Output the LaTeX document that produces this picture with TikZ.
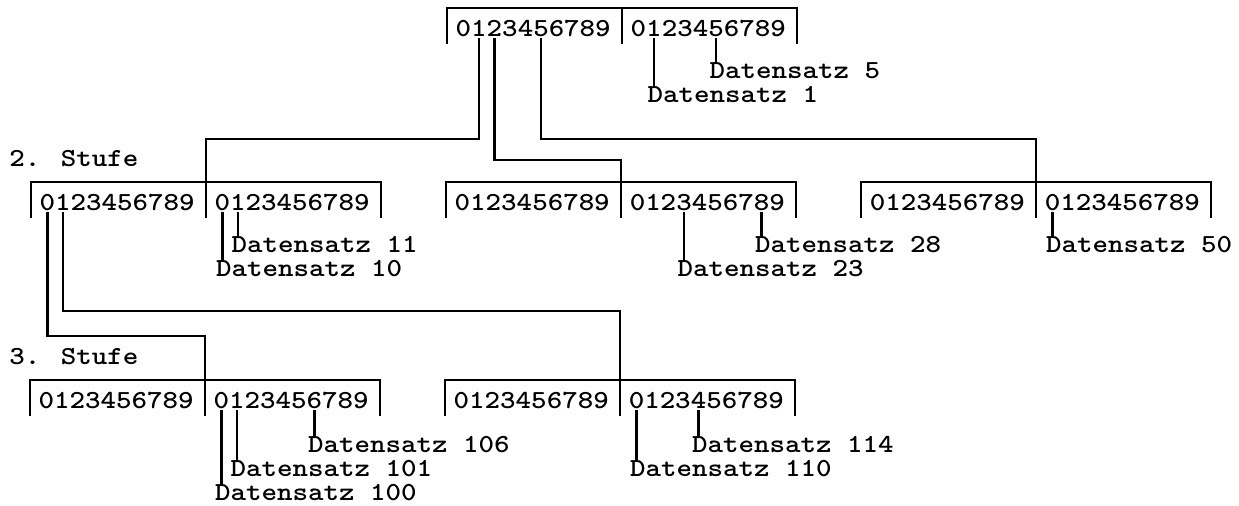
\documentclass[tikz,border=0pt]{standalone}
\usepackage{fontspec}
\usepackage{tikz}
\usetikzlibrary{positioning}
\newfontfamily\typewriter{lmmonolt10-bold.otf}[FakeStretch=1.136]

% one key block: name, left x, top y
\newcommand{\keyblock}[3]{%
  \draw (#2,#3+36) -- (#2,#3) -- (#2+350,#3) -- (#2+350,#3+36);
  \draw (#2+175,#3) -- (#2+175,#3+36);
  \coordinate (#1) at (#2+175,#3);
  \foreach \d in {0,...,9} {
    \node[digit] (#1l\d) at (#2+16.5+15.5*\d,#3+29) {\d};
    \node[digit] (#1r\d) at (#2+191.5+15.5*\d,#3+29) {\d};
  }
}

\begin{document}
\begin{tikzpicture}[
        x=0.5pt,y=-0.5pt,
        line width=1.3pt,
        every node/.style={font=\typewriter\fontsize{13}{15}\selectfont},
        digit/.style={inner sep=0pt,text height=7.5pt,text depth=0pt,anchor=base},
        satz/.style={inner sep=0pt,text height=7.5pt,text depth=0pt,anchor=base west,xshift=-3.875pt},
        stufe/.style={inner sep=0pt,anchor=base west}
      ]
      \useasboundingbox (0,0) rectangle (1239,506);

      % 1. level
      \keyblock{T}{447}{8}
      % 2. level
      \node[stufe] (stufe2) at (8,167) {2. Stufe};
      \keyblock{A}{31}{182}
      \keyblock{B}{446}{182}
      \keyblock{C}{861}{182}
      % 3. level
      \node[stufe] (stufe3) at (8,365) {3. Stufe};
      \keyblock{D}{30}{380}
      \keyblock{E}{445}{380}

      % knees of the tree
      \coordinate (kA) at (206,139);
      \coordinate (kB) at (621,160);
      \coordinate (kC) at (1036,139);
      \coordinate (kD) at (205,336);
      \coordinate (kE) at (620,311);

      \draw (Tl1.south) |- (kA) -- (A);
      \draw (Tl2.south) |- (kB) -- (B);
      \draw (Tl5.south) |- (kC) -- (C);
      \draw (Al0.south) |- (kD) -- (D);
      \draw (Al1.south) |- (kE) -- (E);

      % records
      \node[satz] (s5) at (Tr5 |- 0,79) {Datensatz 5};
      \node[satz] (s1) at (Tr1 |- 0,103) {Datensatz 1};
      \node[satz] (s11) at (Ar1 |- 0,253) {Datensatz 11};
      \node[satz] (s10) at (Ar0 |- 0,277) {Datensatz 10};
      \node[satz] (s28) at (Br8 |- 0,253) {Datensatz 28};
      \node[satz] (s23) at (Br3 |- 0,277) {Datensatz 23};
      \node[satz] (s50) at (Cr0 |- 0,253) {Datensatz 50};
      \node[satz] (s106) at (Dr6 |- 0,453) {Datensatz 106};
      \node[satz] (s101) at (Dr1 |- 0,477) {Datensatz 101};
      \node[satz] (s100) at (Dr0 |- 0,501) {Datensatz 100};
      \node[satz] (s114) at (Er4 |- 0,453) {Datensatz 114};
      \node[satz] (s110) at (Er0 |- 0,477) {Datensatz 110};

      \foreach \d/\s in {Tr5/s5,Tr1/s1,Ar1/s11,Ar0/s10,Br8/s28,Br3/s23,Cr0/s50,
                         Dr6/s106,Dr1/s101,Dr0/s100,Er4/s114,Er0/s110}
        \draw (\d.south) -- (\d.south |- \s.north);
    \end{tikzpicture}
\end{document}
